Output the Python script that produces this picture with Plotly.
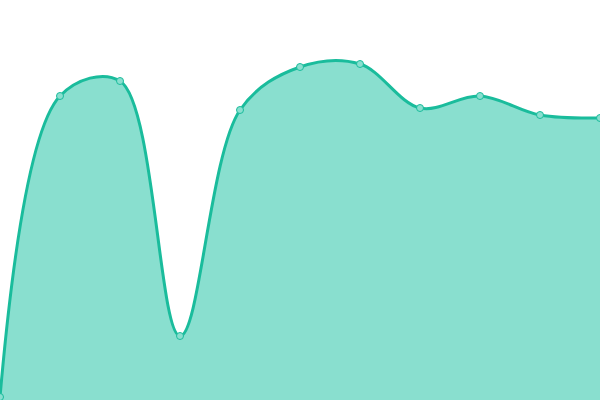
import plotly.graph_objects as go

x_vals = [0, 60, 120, 180, 240, 300, 360, 420, 480, 540, 600]
y_vals = [3, 304, 319, 64, 290, 333, 336, 292, 304, 285, 282]

fig = go.Figure()
fig.add_trace(go.Scatter(
    x=x_vals, y=y_vals,
    mode="lines+markers",
    fill="tozeroy",
    fillcolor="#89dfcf",
    line=dict(color="#1abc9c", width=3, shape="spline", smoothing=1),
    marker=dict(size=7, color="#89dfcf", line=dict(color="#1abc9c", width=1)),
    hoverinfo="skip",
))
fig.update_layout(
    width=600, height=400,
    margin=dict(l=0, r=0, t=0, b=0),
    paper_bgcolor="white", plot_bgcolor="white",
    showlegend=False,
    xaxis=dict(range=[0, 600], visible=False, fixedrange=True),
    yaxis=dict(range=[0, 400], visible=False, fixedrange=True),
)
fig.write_html(
    "out.html",
    config={"displayModeBar": False},
    post_script="document.body.style.margin='0';document.body.style.overflow='hidden';",
)
